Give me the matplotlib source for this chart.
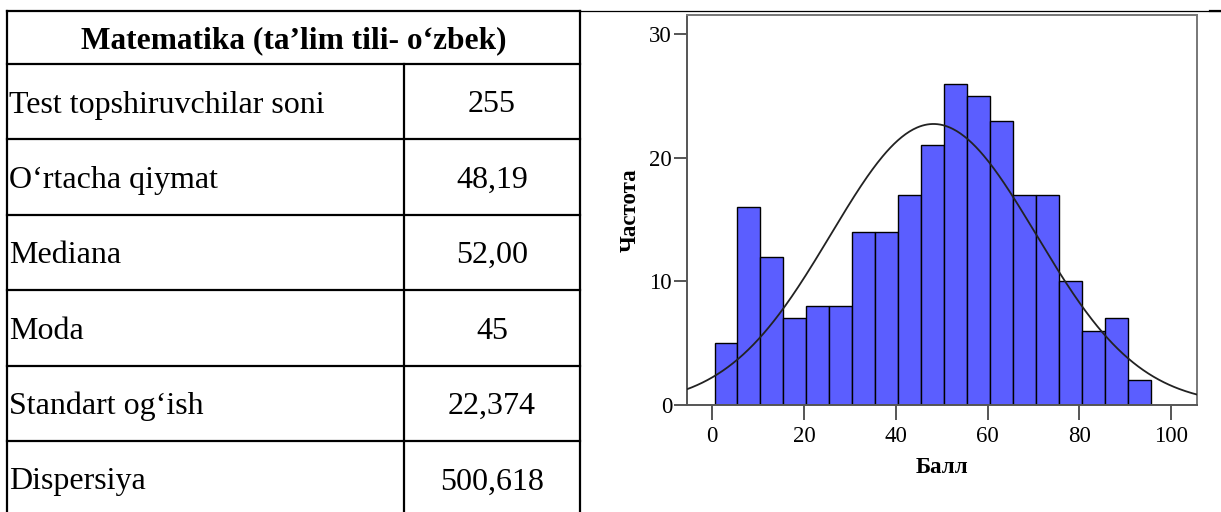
import numpy as np
import matplotlib
matplotlib.use('Agg')
import matplotlib.pyplot as plt

# table data
header = 'Matematika (ta\u2019lim tili- o\u2018zbek)'
row_names = ['Test topshiruvchilar soni', 'O\u2018rtacha qiymat', 'Mediana', 'Moda', 'Standart og\u2018ish', 'Dispersiya']
row_values = ['255', '48,19', '52,00', '45', '22,374', '500,618']

# histogram data
bin_edges = [0.5, 5.5, 10.5, 15.5, 20.5, 25.5, 30.5, 35.5, 40.5, 45.5, 50.5, 55.5, 60.5, 65.5, 70.5, 75.5, 80.5, 85.5, 90.5, 95.5]
counts = [5, 16, 12, 7, 8, 8, 14, 14, 17, 21, 26, 25, 23, 17, 17, 10, 6, 7, 2]
n_total = 255
mean_val = 48.19
std_val = 22.374

plt.rcParams['font.family'] = ['Liberation Serif', 'DejaVu Serif']

W, H = 1221, 512
fig = plt.figure(figsize=(W / 100, H / 100), dpi=100)

#---------------------------------------------------------------
# table drawn in pixel coords
axt = fig.add_axes([0, 0, 1, 1])
axt.set_xlim(0, W)
axt.set_ylim(H, 0)
axt.axis('off')

x_left, x_mid, x_right = 7, 404, 580
y_top, y_head = 10.7, 64
row_h = 75.4
lw = 1.6

axt.plot([x_left, x_right], [y_top, y_top], color='black', lw=lw)
axt.plot([x_right, W], [y_top, y_top], color='black', lw=0.9)
axt.plot([1210, W], [y_top, y_top], color='black', lw=lw)
axt.plot([x_left, x_left], [y_top, H], color='black', lw=lw)
axt.plot([x_right, x_right], [y_top, H], color='black', lw=lw)
axt.plot([x_mid, x_mid], [y_head, H], color='black', lw=lw)
axt.plot([x_left, x_right], [y_head, y_head], color='black', lw=lw)

axt.text((x_left + x_right) / 2, (y_top + y_head) / 2 + 10.5, header, fontsize=22.6,
         fontweight='bold', ha='center', va='baseline')

for i in range(len(row_names)):
    y0 = y_head + i * row_h
    y1 = y0 + row_h
    if i > 0:
        axt.plot([x_left, x_right], [y0, y0], color='black', lw=lw)
    yc = (y0 + y1) / 2 + 10.8
    axt.text(x_left + 2, yc, row_names[i], fontsize=23, ha='left', va='baseline')
    axt.text((x_mid + x_right) / 2, yc, row_values[i], fontsize=23, ha='center', va='baseline')

#---------------------------------------------------------------
# histogram with normal curve
ax = fig.add_axes([687 / W, 1 - 405 / H, (1197 - 687) / W, (405 - 15) / H])
widths = np.diff(bin_edges)
ax.bar(bin_edges[:-1], counts, width=widths, align='edge', color='#5b5eff',
       edgecolor='black', linewidth=1.0, zorder=2)

ax.set_xlim(-5.5, 105.6)
ax.set_ylim(0, 31.55)
xs = np.linspace(-5.5, 105.6, 400)
bw = bin_edges[1] - bin_edges[0]
ys = n_total * bw / (std_val * np.sqrt(2 * np.pi)) * np.exp(-0.5 * ((xs - mean_val) / std_val) ** 2)
ax.plot(xs, ys, color='#222222', lw=1.3, zorder=3)

ax.set_xticks([0, 20, 40, 60, 80, 100])
ax.set_yticks([0, 10, 20, 30])
for s in ax.spines.values():
    s.set_color('#555555')
    s.set_linewidth(1.4)
ax.spines['top'].set_color('#777777')
ax.spines['right'].set_color('#777777')
ax.tick_params(axis='x', direction='out', length=10.8, width=1.4, color='#555555', pad=4, labelsize=16.5)
ax.tick_params(axis='y', direction='out', length=9.3, width=1.4, color='#555555', pad=1.5, labelsize=16.5)

ax.set_xlabel('\u0411\u0430\u043b\u043b', fontsize=16.5, fontweight='bold', va='center')
ax.xaxis.set_label_coords(0.5, -0.159)
ax.set_ylabel('\u0427\u0430\u0441\u0442\u043e\u0442\u0430', fontsize=16.5, fontweight='bold', va='center')
ax.yaxis.set_label_coords(-0.112, 0.5)

fig.savefig('out.png', dpi=100)
